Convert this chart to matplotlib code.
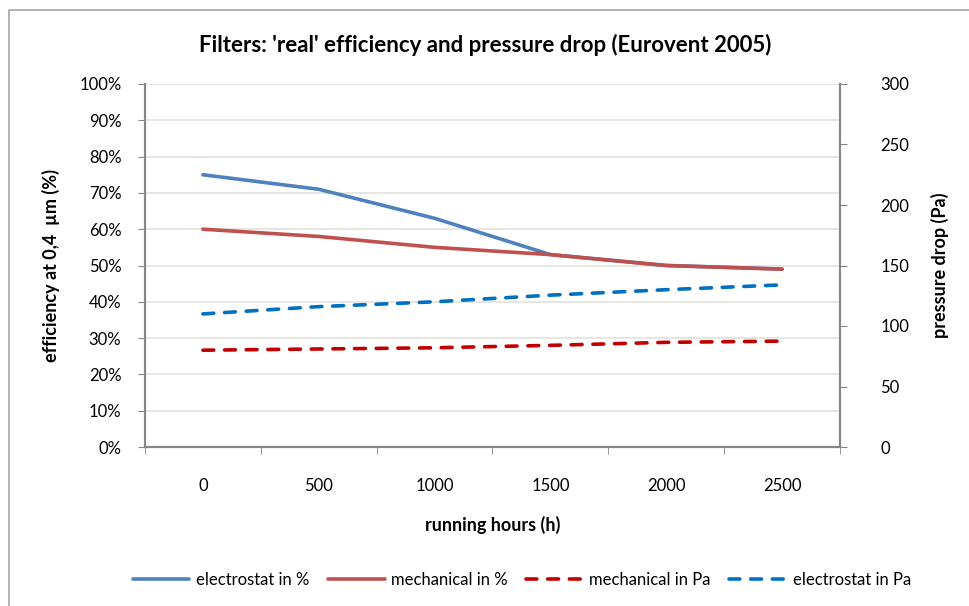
import matplotlib.pyplot as plt
from matplotlib.patches import Rectangle

plt.rcParams['font.family'] = ['Lato', 'DejaVu Sans']

hours = ['0', '500', '1000', '1500', '2000', '2500']
electrostat_pct = [75, 71, 63, 53, 50, 49]
mechanical_pct = [60, 58, 55, 53, 50, 49]
mechanical_pa = [80, 81, 82, 84, 86.5, 87.5]
electrostat_pa = [110, 116, 120, 125.5, 130, 134]

grid_col = '#E4E2DA'
axis_col = '#868686'

fig = plt.figure(figsize=(9.7, 6.06), dpi=100)
ax = fig.add_axes([145 / 970, 1 - 447 / 606, 695 / 970, 363 / 606])
ax2 = ax.twinx()

x = range(len(hours))
ax.plot(x, electrostat_pct, color='#4F81BD', lw=2.6, solid_capstyle='round',
        label='electrostat in %', zorder=3)
ax.plot(x, mechanical_pct, color='#C0504D', lw=2.6, solid_capstyle='round',
        label='mechanical in %', zorder=3)
ax2.plot(x, mechanical_pa, color='#C00000', lw=2.6, ls=(0, (3, 3)),
         dash_capstyle='round', label='mechanical in Pa')
ax2.plot(x, electrostat_pa, color='#0070C0', lw=2.6, ls=(0, (3, 3)),
         dash_capstyle='round', label='electrostat in Pa')

ax.set_xlim(-0.5, len(hours) - 0.5)
ax.set_ylim(0, 100)
ax2.set_ylim(0, 300)

ax.set_yticks(range(0, 101, 10))
ax.set_yticklabels([f'{v}%' for v in range(0, 101, 10)])
ax2.set_yticks(range(0, 301, 50))

ax.set_xticks(list(x))
ax.set_xticklabels(hours)
ax.set_xticks([i - 0.5 for i in range(len(hours) + 1)], minor=True)
ax.tick_params(axis='x', which='major', length=0, pad=22, labelsize=12)
ax.tick_params(axis='x', which='minor', length=5, color=axis_col, direction='out')
ax.tick_params(axis='y', length=5, color=axis_col, labelsize=12, pad=12)
ax2.tick_params(axis='y', length=5, color=axis_col, labelsize=12, pad=24)

ax.grid(axis='y', color=grid_col, lw=1.2)
ax.set_axisbelow(True)

for a in (ax, ax2):
    a.spines['top'].set_visible(False)
    for s in ('left', 'right', 'bottom'):
        a.spines[s].set_color(axis_col)
        a.spines[s].set_linewidth(1.5)

ax.set_xlabel('running hours (h)', fontsize=13, fontweight='bold', labelpad=16)
ax.set_ylabel('efficiency at 0,4  µm (%)', fontsize=13, fontweight='bold', labelpad=14)
ax2.set_ylabel('pressure drop (Pa)', fontsize=13, fontweight='bold', labelpad=16)
for t in ax2.get_yticklabels():
    t.set_ha('left')

fig.text(0.5, 1 - 45 / 606, "Filters: 'real' efficiency and pressure drop (Eurovent 2005)",
         ha='center', va='center', fontsize=16, fontweight='bold')

h1, l1 = ax.get_legend_handles_labels()
h2, l2 = ax2.get_legend_handles_labels()
fig.legend(h1 + h2, l1 + l2, loc='center', bbox_to_anchor=(0.538, 1 - 580 / 606),
           ncol=4, frameon=False, fontsize=12, handlelength=3.4, columnspacing=1.1,
           handletextpad=0.4)

# chart area border
fig.patches.append(Rectangle((9 / 970, -0.05), 1.1, 1 - 10 / 606 + 0.05,
                             transform=fig.transFigure, fill=False,
                             edgecolor='#A6A6A6', lw=1.2))

fig.savefig('out.png', dpi=100)
